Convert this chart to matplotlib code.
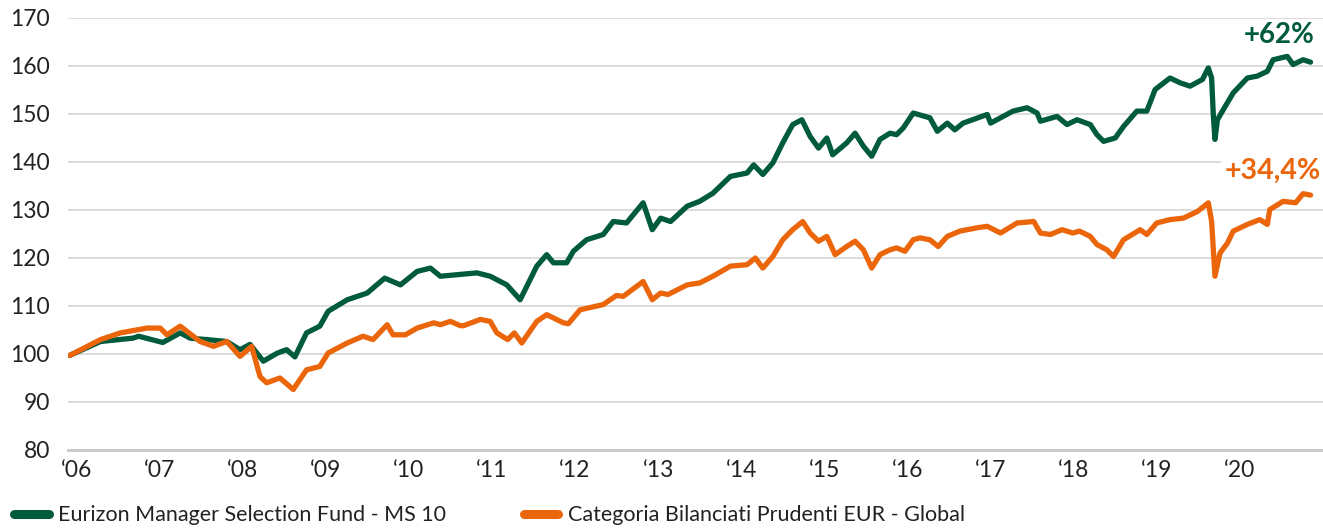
import matplotlib.pyplot as plt
from matplotlib.lines import Line2D

# posizione in anni (asse come nel grafico originale)
t_fondo = [2006.02, 2006.39, 2006.78, 2006.85, 2007.14, 2007.35, 2007.47, 2007.67, 2007.91,
           2008.07, 2008.19, 2008.35, 2008.52, 2008.63, 2008.73, 2008.87, 2009.03, 2009.13,
           2009.36, 2009.6, 2009.81, 2010.0, 2010.2, 2010.36, 2010.48, 2010.92, 2011.08,
           2011.28, 2011.44, 2011.64, 2011.76, 2011.84, 2012.0, 2012.08, 2012.24, 2012.44,
           2012.56, 2012.72, 2012.92, 2013.03, 2013.13, 2013.25, 2013.45, 2013.6, 2013.76,
           2013.97, 2014.17, 2014.25, 2014.36, 2014.48, 2014.6, 2014.72, 2014.83, 2014.93,
           2015.03, 2015.13, 2015.2, 2015.37, 2015.47, 2015.57, 2015.67, 2015.77, 2015.89,
           2015.97, 2016.05, 2016.17, 2016.37, 2016.46, 2016.58, 2016.67, 2016.77, 2017.06,
           2017.1, 2017.37, 2017.54, 2017.66, 2017.7, 2017.9, 2018.02, 2018.14, 2018.3,
           2018.38, 2018.46, 2018.6, 2018.7, 2018.86, 2018.98, 2019.08, 2019.26, 2019.38,
           2019.5, 2019.65, 2019.72, 2019.76, 2019.78, 2019.8, 2019.83, 2019.9, 2020.02,
           2020.19, 2020.31, 2020.43, 2020.5, 2020.67, 2020.74, 2020.86, 2020.95]
fondo = [99.7, 102.6, 103.3, 103.7, 102.4, 104.4, 103.3, 103.0, 102.6,
         100.9, 102.0, 98.5, 100.2, 100.9, 99.4, 104.4, 105.8, 108.9,
         111.3, 112.7, 115.8, 114.4, 117.2, 117.9, 116.2, 116.9, 116.2,
         114.4, 111.3, 118.3, 120.7, 119.0, 119.0, 121.4, 123.8, 124.9,
         127.6, 127.3, 131.5, 125.9, 128.3, 127.6, 130.8, 131.8, 133.5,
         137.0, 137.7, 139.4, 137.4, 139.8, 144.0, 147.8, 148.8, 145.3,
         142.9, 145.0, 141.5, 144.0, 146.0, 143.3, 141.2, 144.7, 146.0,
         145.7, 147.1, 150.2, 149.2, 146.4, 148.1, 146.7, 148.1, 149.9,
         148.1, 150.6, 151.3, 150.2, 148.5, 149.5, 147.8, 148.8, 147.8,
         145.7, 144.3, 145.0, 147.4, 150.6, 150.6, 155.1, 157.5, 156.5,
         155.8, 157.2, 159.6, 157.5, 149.9, 144.7, 148.8, 150.9, 154.4,
         157.5, 157.9, 158.9, 161.3, 162.0, 160.3, 161.3, 160.8]

t_categoria = [2006.02, 2006.39, 2006.63, 2006.95, 2007.11, 2007.19, 2007.35, 2007.59, 2007.75,
               2007.91, 2008.07, 2008.21, 2008.31, 2008.39, 2008.55, 2008.71, 2008.87, 2009.03,
               2009.13, 2009.36, 2009.55, 2009.67, 2009.84, 2009.91, 2010.06, 2010.2, 2010.4,
               2010.48, 2010.6, 2010.72, 2010.76, 2010.96, 2011.08, 2011.16, 2011.29, 2011.37,
               2011.46, 2011.64, 2011.76, 2011.96, 2012.02, 2012.16, 2012.44, 2012.6, 2012.68,
               2012.92, 2013.03, 2013.13, 2013.22, 2013.45, 2013.6, 2013.76, 2013.97, 2014.17,
               2014.27, 2014.36, 2014.48, 2014.6, 2014.72, 2014.84, 2014.93, 2015.03, 2015.13,
               2015.23, 2015.37, 2015.47, 2015.57, 2015.67, 2015.77, 2015.89, 2015.97, 2016.07,
               2016.17, 2016.25, 2016.37, 2016.47, 2016.58, 2016.73, 2016.94, 2017.06, 2017.22,
               2017.42, 2017.62, 2017.7, 2017.82, 2017.96, 2018.09, 2018.17, 2018.3, 2018.38,
               2018.5, 2018.58, 2018.7, 2018.9, 2018.98, 2019.1, 2019.26, 2019.42, 2019.59,
               2019.72, 2019.76, 2019.8, 2019.86, 2019.95, 2020.02, 2020.19, 2020.34, 2020.43,
               2020.46, 2020.62, 2020.77, 2020.86, 2020.95]
categoria = [99.7, 103.0, 104.4, 105.4, 105.4, 104.0, 105.8, 102.6, 101.6,
             102.6, 99.5, 101.6, 95.3, 94.0, 95.0, 92.6, 96.7, 97.4,
             100.2, 102.3, 103.7, 103.0, 106.1, 104.0, 104.0, 105.4, 106.5,
             106.1, 106.8, 105.9, 105.9, 107.2, 106.8, 104.4, 103.0, 104.4,
             102.3, 106.8, 108.2, 106.5, 106.3, 109.2, 110.3, 112.2, 112.0,
             115.1, 111.3, 112.7, 112.4, 114.4, 114.8, 116.2, 118.3, 118.6,
             120.0, 117.9, 120.3, 123.8, 125.9, 127.6, 125.2, 123.5, 124.5,
             120.7, 122.4, 123.5, 121.7, 117.9, 120.7, 121.7, 122.1, 121.4,
             123.8, 124.2, 123.8, 122.4, 124.5, 125.6, 126.3, 126.6, 125.2,
             127.3, 127.6, 125.2, 124.9, 125.9, 125.2, 125.6, 124.5, 122.8,
             121.7, 120.3, 123.8, 125.9, 124.9, 127.3, 128.0, 128.3, 129.7,
             131.5, 127.6, 116.2, 121.0, 123.1, 125.6, 127.0, 128.0, 127.0,
             130.1, 131.8, 131.5, 133.4, 133.1]

anni = list(range(2006, 2021))
etichette_anni = ['\u2018%02d' % (a % 100) for a in anni]
nomi = ['Eurizon Manager Selection Fund - MS 10', 'Categoria Bilanciati Prudenti EUR - Global']
verde = '#005A3C'
arancio = '#EB660B'

plt.rcParams['font.family'] = ['Lato', 'DejaVu Sans']

fig = plt.figure(figsize=(13.23, 5.29), dpi=100)
ax = fig.add_axes([68 / 1323, 1 - 450 / 529, 1 - 68 / 1323, 432 / 529])

ax.plot(t_fondo, fondo, color=verde, lw=3.8, solid_joinstyle='round', solid_capstyle='round', zorder=3)
ax.plot(t_categoria, categoria, color=arancio, lw=3.8, solid_joinstyle='round', solid_capstyle='round', zorder=3)

ax.set_xlim(2006, 2021.1)
ax.set_ylim(80, 170)
ax.set_yticks(range(80, 171, 10))
ax.set_xticks([a + 0.1 for a in anni])
ax.set_xticklabels(etichette_anni)
ax.tick_params(axis='both', length=0, labelsize=16.5, colors='#222222')
ax.tick_params(axis='y', pad=13)
ax.tick_params(axis='x', pad=7)
ax.grid(axis='y', color='#d9d9d9', lw=1.3)
ax.set_axisbelow(True)
for s in ['top', 'right', 'left']:
    ax.spines[s].set_visible(False)
ax.spines['bottom'].set_color('#c8c8c8')
ax.spines['bottom'].set_linewidth(2)

ax.text(2021.0, 166.5, '+62%', color=verde, fontsize=20, fontweight='bold',
        ha='right', va='center', zorder=4)
ax.text(2021.08, 138.2, '+34,4%', color=arancio, fontsize=20.5, fontweight='bold',
        ha='right', va='center', zorder=4,
        bbox=dict(facecolor='white', edgecolor='none', pad=3))

maniglie = [Line2D([], [], color=verde, lw=6.5, solid_capstyle='round'),
            Line2D([], [], color=arancio, lw=6.5, solid_capstyle='round')]
fig.legend(maniglie, nomi, loc='lower left', bbox_to_anchor=(-0.004, -0.03), ncol=2,
           frameon=False, fontsize=15.5, handlelength=1.6, handletextpad=0.45,
           columnspacing=3.6, labelcolor='#222222')

fig.savefig('out.png', dpi=100)
